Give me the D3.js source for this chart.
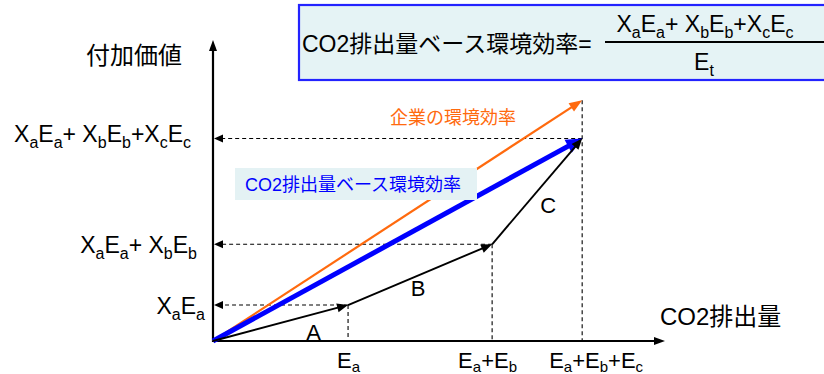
<!DOCTYPE html>
<html lang="ja">
<head>
<meta charset="utf-8">
<script src="https://cdn.jsdelivr.net/npm/d3@7"></script>
<style>
  html, body { margin: 0; padding: 0; background: #ffffff; }
  svg { display: block; font-family: "Liberation Sans", Arial, "Noto Sans CJK JP", sans-serif; }
</style>
</head>
<body>
<svg id="chart" width="824" height="374"></svg>
<script>
// Business segments and their contributions (arbitrary units)
const segments = ["A", "B", "C"];
const emissions = [3.0, 3.2, 2.0];        // E_a, E_b, E_c
const valueAdded = [0.8, 1.35, 2.35];     // X_a E_a, X_b E_b, X_c E_c
const firmEfficiencyValue = 5.35;          // value reached by the firm-wide efficiency line at E_t
const axisMax = { x: 10.04, y: 6.69 };

// Labels (main text / subscript pairs)
const yTickLabels = [
  [["X","a"],["E","a"]],
  [["X","a"],["E","a"],["+ X","b"],["E","b"]],
  [["X","a"],["E","a"],["+ X","b"],["E","b"],["+X","c"],["E","c"]]
];
const xTickLabels = [
  [["E","a"]],
  [["E","a"],["+E","b"]],
  [["E","a"],["+E","b"],["+E","c"]]
];
const formulaNumerator = [["X","a"],["E","a"],["+ X","b"],["E","b"],["+X","c"],["E","c"]];
const formulaDenominator = [["E","t"]];
const titles = {
  formula: "CO2排出量ベース環境効率=",
  yAxis: "付加価値",
  xAxis: "CO2排出量",
  firm: "企業の環境効率",
  co2: "CO2排出量ベース環境効率"
};

const svg = d3.select("#chart");

const x = d3.scaleLinear().domain([0, axisMax.x]).range([213, 665]);
const y = d3.scaleLinear().domain([0, axisMax.y]).range([341, 40]);

// cumulative points
const cumE = d3.cumsum(emissions);
const cumV = d3.cumsum(valueAdded);
const pts = [[0, 0]].concat(Array.from(cumE, (e, i) => [e, cumV[i]]));
const totalE = cumE[cumE.length - 1];
const totalV = cumV[cumV.length - 1];

// line with a filled triangular head at (x2,y2)
function arrow(g, x1, y1, x2, y2, opt) {
  const { color = "#000", width = 1.8, len = 10, half = 4, dash = null } = opt || {};
  const dx = x2 - x1, dy = y2 - y1, d = Math.hypot(dx, dy);
  const ux = dx / d, uy = dy / d;
  const bx = x2 - ux * len, by = y2 - uy * len;
  const l = g.append("line")
    .attr("x1", x1).attr("y1", y1)
    .attr("x2", x2 - ux * len * 0.6).attr("y2", y2 - uy * len * 0.6)
    .attr("stroke", color).attr("stroke-width", width);
  if (dash) l.attr("stroke-dasharray", dash);
  g.append("path")
    .attr("d", `M${x2},${y2}L${bx - uy * half},${by + ux * half}L${bx + uy * half},${by - ux * half}Z`)
    .attr("fill", color);
}

// text made of main/subscript pairs
function richText(g, parts, xPos, yPos, anchor, main, sub, shift) {
  const t = g.append("text")
    .attr("x", xPos).attr("y", yPos)
    .attr("text-anchor", anchor)
    .attr("font-size", main)
    .attr("fill", "#000");
  parts.forEach(([m, s], i) => {
    t.append("tspan").attr("dy", i === 0 ? 0 : -shift).text(m);
    t.append("tspan").attr("font-size", sub).attr("dy", shift).text(s);
  });
  return t;
}

// formula box
const box = svg.append("g");
box.append("rect")
  .attr("x", 299).attr("y", 5).attr("width", 540).attr("height", 75)
  .attr("fill", "#e5f3f5").attr("stroke", "#2323ff").attr("stroke-width", 2.2);
box.append("text")
  .attr("x", 302).attr("y", 52)
  .attr("font-size", 23).attr("fill", "#000")
  .text(titles.formula);
box.append("line")
  .attr("x1", 605).attr("x2", 824).attr("y1", 42).attr("y2", 42)
  .attr("stroke", "#000").attr("stroke-width", 2);
richText(box, formulaNumerator, 705, 32, "middle", 23, 16, 6);
richText(box, formulaDenominator, 704, 70, "middle", 23, 16, 6);

const g = svg.append("g");

// dashed guides: vertical drops and horizontal arrows to the value axis
pts.slice(1).forEach(([e, v], i) => {
  const topV = i === pts.length - 2 ? firmEfficiencyValue : v;
  g.append("line")
    .attr("x1", x(e)).attr("x2", x(e))
    .attr("y1", y(topV)).attr("y2", y(0))
    .attr("stroke", "#000").attr("stroke-width", 1.1)
    .attr("stroke-dasharray", "4,3");
  arrow(g, x(e), y(v), x(0) + 1, y(v), { width: 1.1, len: 9, half: 4, dash: "4,3" });
});

// axes
g.append("line")
  .attr("x1", x(0)).attr("x2", x(0)).attr("y1", y(0) + 1).attr("y2", y(axisMax.y) + 8)
  .attr("stroke", "#000").attr("stroke-width", 2.2);
g.append("path")
  .attr("d", `M${x(0)},${y(axisMax.y)}L${x(0) - 4},${y(axisMax.y) + 11}L${x(0) + 4},${y(axisMax.y) + 11}Z`)
  .attr("fill", "#000");
g.append("line")
  .attr("x1", x(0) - 1).attr("x2", x(axisMax.x) - 8).attr("y1", y(0)).attr("y2", y(0))
  .attr("stroke", "#000").attr("stroke-width", 2.2);
g.append("path")
  .attr("d", `M${x(axisMax.x)},${y(0)}L${x(axisMax.x) - 11},${y(0) - 4}L${x(axisMax.x) - 11},${y(0) + 4}Z`)
  .attr("fill", "#000");

// firm-wide efficiency (orange) and CO2-based efficiency (blue)
arrow(g, x(0), y(0), x(totalE), y(firmEfficiencyValue), { color: "#ff6a0e", width: 2.2, len: 13, half: 5 });
arrow(g, x(0), y(0), x(totalE), y(totalV), { color: "#0000ff", width: 5, len: 16, half: 7.5 });

// segment vectors
for (let i = 1; i < pts.length; i++) {
  arrow(g, x(pts[i - 1][0]), y(pts[i - 1][1]), x(pts[i][0]), y(pts[i][1]), { width: 1.9, len: 11, half: 4.5 });
}

// segment letters
const letterOffsets = [[33, 17], [-2, 21], [11, 22]];
segments.forEach((s, i) => {
  const mx = (x(pts[i][0]) + x(pts[i + 1][0])) / 2;
  const my = (y(pts[i][1]) + y(pts[i + 1][1])) / 2;
  g.append("text")
    .attr("x", mx + letterOffsets[i][0]).attr("y", my + letterOffsets[i][1])
    .attr("text-anchor", "middle")
    .attr("font-size", 22).attr("fill", "#000")
    .text(s);
});

// value-axis labels
const yLabelRight = [205, 197, 191];
const yLabelShift = [9, 9, 3];
pts.slice(1).forEach(([e, v], i) => {
  richText(g, yTickLabels[i], yLabelRight[i], y(v) + yLabelShift[i], "end", 23, 16, 6);
});

// emission-axis labels
const xLabelShift = [-11, -34, -33];
pts.slice(1).forEach(([e], i) => {
  richText(g, xTickLabels[i], x(e) + xLabelShift[i], 368, "start", 22, 15, 4);
});

// axis titles
g.append("text").attr("x", 182).attr("y", 64).attr("text-anchor", "end")
  .attr("font-size", 24).attr("fill", "#000").text(titles.yAxis);
g.append("text").attr("x", 660).attr("y", 325)
  .attr("font-size", 24).attr("fill", "#000").text(titles.xAxis);

// line annotations
g.append("text").attr("x", 390).attr("y", 124)
  .attr("font-size", 18).attr("fill", "#ff6a0e").text(titles.firm);
const lab = g.append("g");
lab.append("rect").attr("x", 235).attr("y", 168).attr("width", 242).attr("height", 32)
  .attr("fill", "#e4f2f4");
lab.append("text").attr("x", 245).attr("y", 191)
  .attr("font-size", 18).attr("fill", "#0000ff").text(titles.co2);
</script>
</body>
</html>
